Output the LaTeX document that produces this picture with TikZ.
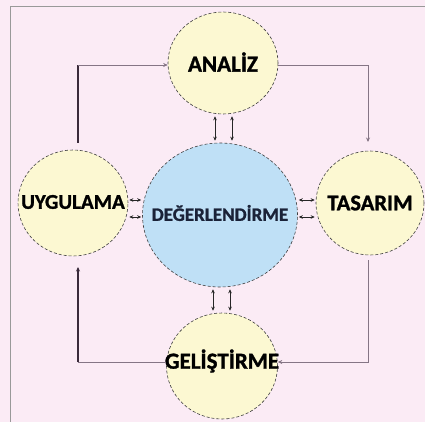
\documentclass[tikz,border=0pt]{standalone}
\usepackage{fontspec}
\setmainfont{Carlito}[BoldFeatures={FakeBold=1.2}]
\usetikzlibrary{arrows.meta,shapes.geometric}
\definecolor{bgpink}{HTML}{FBEBF5}
\definecolor{cyellow}{HTML}{FCF8D2}
\definecolor{cblue}{HTML}{BFE0F6}
\definecolor{lineg}{HTML}{857585}
\definecolor{lined}{HTML}{3A2A3A}
\definecolor{navy}{HTML}{1A2238}
\tikzset{
  phase/.style={ellipse, draw=black!75, densely dashed, line width=0.6pt, fill=cyellow,
    inner sep=0pt},
  centershape/.style={ellipse, draw=black!75, densely dashed, line width=0.6pt, fill=cblue,
    inner sep=0pt, minimum width=155pt, minimum height=144pt},
  lbl/.style={inner sep=0pt, text=black, font=\bfseries},
  tip/.style={-{Stealth[length=4.5pt,width=4pt]}},
  biarrow/.style={{Stealth[length=4pt,width=3.6pt]}-{Stealth[length=4pt,width=3.6pt]}, line width=0.7pt, draw=black!85},
  thinline/.style={line width=0.7pt, draw=lineg},
  thickline/.style={line width=1.6pt, draw=lined}
}
\begin{document}
\begin{tikzpicture}[x=1pt,y=-1pt]
\useasboundingbox (0,0) rectangle (425,422);
\fill[bgpink] (0,0) rectangle (425,422);
\draw[gray!80, line width=1pt] (10,422) -- (10,7) -- (425,7);

\node[centershape] (D) at (220,215) {};
\node[phase, minimum width=110pt, minimum height=102pt] (A) at (223,63) {};
\node[phase, minimum width=108pt, minimum height=104pt] (T) at (370,203) {};
\node[phase, minimum width=110pt, minimum height=106pt] (U) at (73,203) {};
\node[phase, minimum width=111pt, minimum height=106pt] (G) at (222,366) {};

\node[lbl, text=navy, font=\bfseries\fontsize{19}{19}\selectfont] (Dt) at (220,213) {DEĞERLENDİRME};
\node[lbl, font=\bfseries\fontsize{23}{23}\selectfont] (At) at (223,62) {ANALİZ};
\node[lbl, font=\bfseries\fontsize{22.5}{22.5}\selectfont] (Tt) at (370,203) {TASARIM};
\node[lbl, font=\bfseries\fontsize{21}{21}\selectfont] (Ut) at (73,202) {UYGULAMA};
\node[lbl, font=\bfseries\fontsize{23}{23}\selectfont] (Gt) at (222,361) {GELİŞTİRME};

% corner coordinates
\coordinate (u1) at (78,143);
\coordinate (c1) at (78,65);
\coordinate (c2) at (368,65);
\coordinate (t1) at (368,142);
\coordinate (t2) at (368,260);
\coordinate (c3) at (368,362);
\coordinate (c4) at (78,362);
\coordinate (u2) at (78,267);

% outer cycle
\draw[thickline] (u1) -- (c1);
\draw[thinline, tip] (c1) -- (c1 -| A.west);
\draw[thinline, tip] (c2 -| A.east) -- (c2) -- (t1);
\draw[thinline, tip] (t2) -- (c3) -- (c3 -| G.east);
\draw[thinline] (c4 -| G.west) -- (c4);
\draw[thickline, tip] (c4) -- (u2);

% short links with DEĞERLENDİRME
\draw[biarrow] ([xshift=-8pt,yshift=-2pt]A.south) -- ([xshift=-8pt,yshift=2pt]A.south |- D.north);
\draw[biarrow] ([xshift=9pt,yshift=-2pt]A.south) -- ([xshift=9pt,yshift=2pt]A.south |- D.north);
\draw[biarrow] ([xshift=-7pt,yshift=-2pt]D.south) -- ([xshift=-7pt,yshift=2pt]D.south |- G.north);
\draw[biarrow] ([xshift=10pt,yshift=-2pt]D.south) -- ([xshift=10pt,yshift=2pt]D.south |- G.north);
\draw[biarrow] ([xshift=1pt,yshift=3pt]U.east) -- ([xshift=-1pt,yshift=3pt]U.east -| D.west);
\draw[biarrow] ([xshift=1pt,yshift=-14pt]U.east) -- ([xshift=-1pt,yshift=-14pt]U.east -| D.west);
\draw[biarrow] ([xshift=-1pt,yshift=3pt]T.west) -- ([xshift=1pt,yshift=3pt]T.west -| D.east);
\draw[biarrow] ([xshift=-1pt,yshift=-14pt]T.west) -- ([xshift=1pt,yshift=-14pt]T.west -| D.east);
\end{tikzpicture}
\end{document}
